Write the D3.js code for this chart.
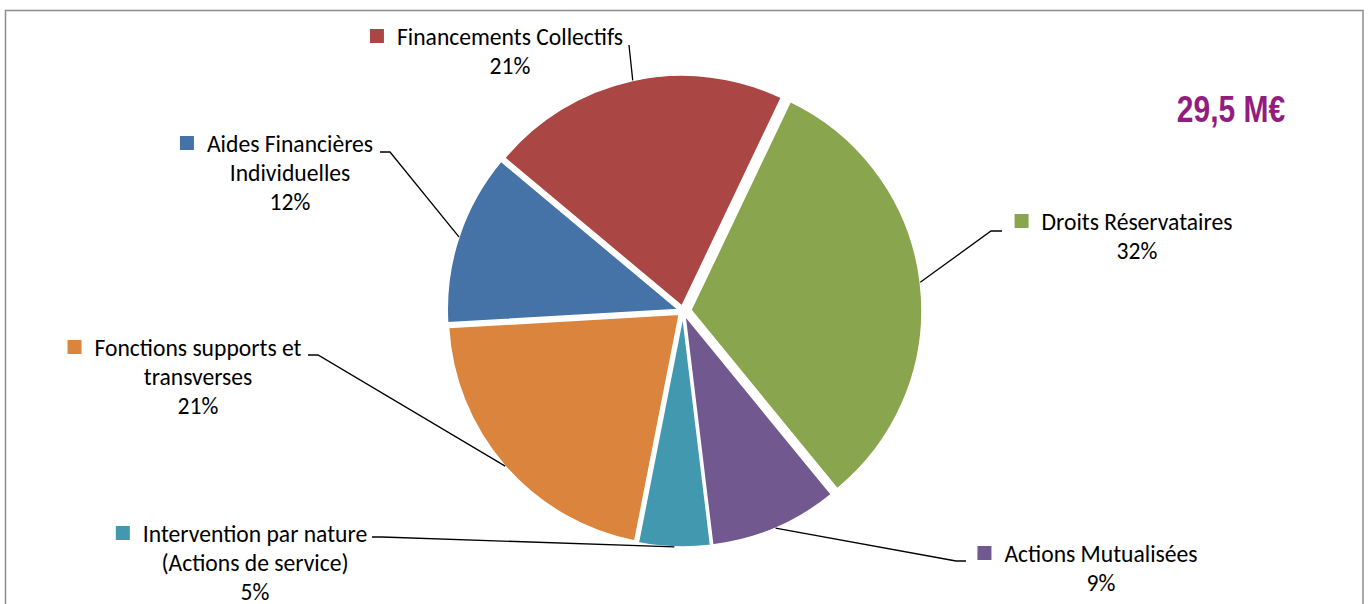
<!DOCTYPE html>
<html>
<head>
<meta charset="utf-8">
<script src="https://cdn.jsdelivr.net/npm/d3@7"></script>
<style>
  html, body { margin: 0; padding: 0; background: #fff; }
  svg { display: block; }
</style>
</head>
<body>
<svg id="chart" width="1369" height="604"></svg>
<script>
// Budget breakdown, share of the total in percent
const categories = [
  "Droits Réservataires",
  "Actions Mutualisées",
  "Intervention par nature (Actions de service)",
  "Fonctions supports et transverses",
  "Aides Financières Individuelles",
  "Financements Collectifs"
];
const shares = [32, 9, 5, 21, 12, 21];
const labelLines = [
  ["Droits Réservataires"],
  ["Actions Mutualisées"],
  ["Intervention par nature", "(Actions de service)"],
  ["Fonctions supports et", "transverses"],
  ["Aides Financières", "Individuelles"],
  ["Financements Collectifs"]
];
const totalLabel = "29,5 M€";

// Presentation
const colors = ["#89A54E", "#71588F", "#4198AF", "#DB843D", "#4572A7", "#AA4643"];
const explode = [8, 5, 5, 5, 5, 5];
const labelLayout = [
  { x: 1137, y: 230, leader: [[1002, 231], [991, 231]] },
  { x: 1101, y: 562, leader: [[966, 561], [956, 561]] },
  { x: 255,  y: 542, leader: [[372, 537], [382, 537]] },
  { x: 198,  y: 356, leader: [[308, 355], [318, 355]] },
  { x: 290,  y: 152, leader: [[380, 152], [390, 152]] },
  { x: 510,  y: 45,  leader: [[629, 45]] }
];

const cx = 683, cy = 311, radius = 231;
const startDeg = 25.5;
const lineGap = 29;
const fontFamily = "Carlito, Calibri, Lato, sans-serif";
const fontSize = 23.6;

const svg = d3.select("#chart");

// chart frame
svg.append("rect")
  .attr("x", 5.5).attr("y", 10.5)
  .attr("width", 1357.5).attr("height", 700)
  .attr("fill", "none")
  .attr("stroke", "#8c8c8c")
  .attr("stroke-width", 1.5);

const a0 = startDeg * Math.PI / 180;
const pie = d3.pie().sort(null).startAngle(a0).endAngle(a0 + 2 * Math.PI);
const arcs = pie(shares);
const sum = d3.sum(shares);
const arc = d3.arc().innerRadius(0).outerRadius(radius);

const g = svg.append("g").attr("transform", `translate(${cx},${cy})`);

function offset(d, i) {
  const mid = (d.startAngle + d.endAngle) / 2;
  const r = explode[i];
  return [Math.sin(mid) * r, -Math.cos(mid) * r];
}

g.selectAll("path.slice")
  .data(arcs)
  .join("path")
  .attr("class", "slice")
  .attr("d", arc)
  .attr("transform", (d, i) => { const o = offset(d, i); return `translate(${o[0]},${o[1]})`; })
  .attr("fill", (d, i) => colors[i])
  .attr("stroke", "#fff")
  .attr("stroke-width", 1.5)
  .attr("stroke-linejoin", "round");

// leader lines from each label to the middle of its slice's outer edge
const line = d3.line();
arcs.forEach((d, i) => {
  const mid = (d.startAngle + d.endAngle) / 2;
  const o = offset(d, i);
  const end = [cx + o[0] + Math.sin(mid) * radius, cy + o[1] - Math.cos(mid) * radius];
  const pts = labelLayout[i].leader.concat([end]);
  svg.append("path")
    .attr("d", line(pts))
    .attr("fill", "none")
    .attr("stroke", "#000")
    .attr("stroke-width", 1.3);
});

// labels: name lines, then percentage, with a colour key before the first line
arcs.forEach((d, i) => {
  const lay = labelLayout[i];
  const lines = labelLines[i].concat([Math.round(d.value / sum * 100) + "%"]);
  const t = svg.append("text")
    .attr("font-family", fontFamily)
    .attr("font-size", fontSize)
    .attr("fill", "#000")
    .attr("text-anchor", "middle");
  lines.forEach((s, k) => {
    t.append("tspan").attr("x", lay.x).attr("y", lay.y + k * lineGap).text(s);
  });
  const w = t.select("tspan").node().getComputedTextLength();
  svg.append("rect")
    .attr("x", lay.x - w / 2 - 27)
    .attr("y", lay.y - 16)
    .attr("width", 14).attr("height", 14)
    .attr("fill", colors[i]);
});

// total amount, set in a narrowed bold sans
svg.append("text")
  .attr("transform", "translate(1231,122) scale(0.8,1)")
  .attr("text-anchor", "middle")
  .attr("font-family", "'Liberation Sans', Arial, sans-serif")
  .attr("font-weight", "bold")
  .attr("font-size", 37.5)
  .attr("fill", "#931C80")
  .text(totalLabel);
</script>
</body>
</html>
